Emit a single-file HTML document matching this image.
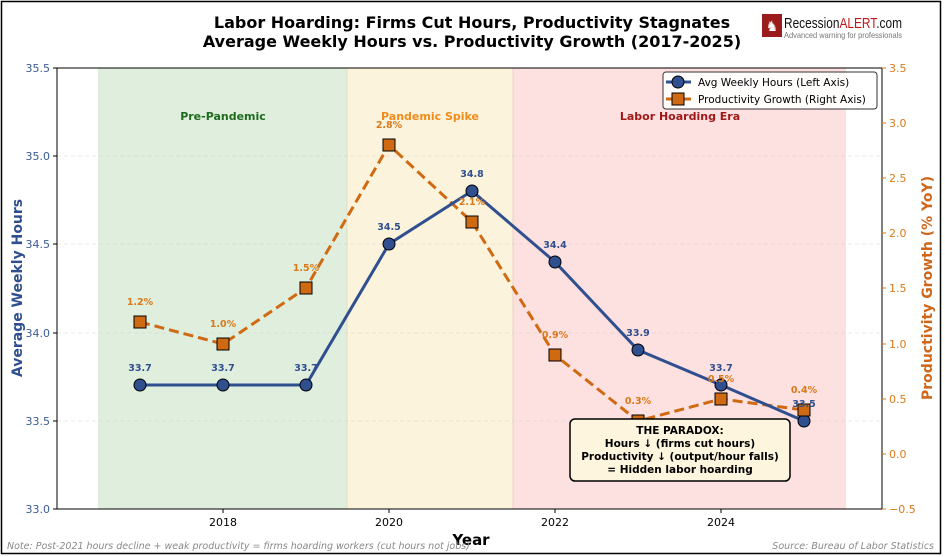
<!DOCTYPE html>
<html><head><meta charset="utf-8"><style>html,body{margin:0;padding:0;background:#fff}svg{display:block}</style></head>
<body>
<svg width="945" height="557" viewBox="0 0 945 557" xmlns="http://www.w3.org/2000/svg" font-family="DejaVu Sans, Liberation Sans, sans-serif">
<rect x="0" y="0" width="945" height="557" fill="#fff"/>
<rect x="1.5" y="1.5" width="939" height="552" fill="none" stroke="#000" stroke-width="1.5"/>
<rect x="98" y="68" width="249" height="441" fill="#dfeedd"/>
<rect x="347" y="68" width="166" height="441" fill="#fbf3dc"/>
<rect x="513" y="68" width="333" height="441" fill="#fde0e0"/>
<line x1="347" y1="68" x2="347" y2="509" stroke="#e6dfc0" stroke-width="1"/>
<line x1="513" y1="68" x2="513" y2="509" stroke="#ecd0c8" stroke-width="1"/>
<g stroke="#ccc" stroke-dasharray="4,3" stroke-width="0.6" opacity="0.8">
<line x1="57" y1="156" x2="882" y2="156"/><line x1="57" y1="244" x2="882" y2="244"/>
<line x1="57" y1="333" x2="882" y2="333"/><line x1="57" y1="421" x2="882" y2="421"/>
</g>
<rect x="57" y="68" width="825" height="441" fill="none" stroke="#000" stroke-width="1"/>
<g stroke="#000" stroke-width="1">
<line x1="53" y1="68" x2="57" y2="68"/><line x1="53" y1="156" x2="57" y2="156"/><line x1="53" y1="244" x2="57" y2="244"/><line x1="53" y1="333" x2="57" y2="333"/><line x1="53" y1="421" x2="57" y2="421"/><line x1="53" y1="509" x2="57" y2="509"/>
<line x1="223" y1="509" x2="223" y2="513"/><line x1="389" y1="509" x2="389" y2="513"/><line x1="555" y1="509" x2="555" y2="513"/><line x1="721" y1="509" x2="721" y2="513"/>
</g>
<g stroke="#d97a1a" stroke-width="1">
<line x1="882" y1="68" x2="886" y2="68"/><line x1="882" y1="123" x2="886" y2="123"/><line x1="882" y1="178" x2="886" y2="178"/><line x1="882" y1="233" x2="886" y2="233"/><line x1="882" y1="288" x2="886" y2="288"/><line x1="882" y1="344" x2="886" y2="344"/><line x1="882" y1="399" x2="886" y2="399"/><line x1="882" y1="454" x2="886" y2="454"/><line x1="882" y1="509" x2="886" y2="509"/>
</g>
<g font-size="11" fill="#3a5a9a" text-anchor="end">
<text x="50" y="72">35.5</text><text x="50" y="160">35.0</text><text x="50" y="248">34.5</text><text x="50" y="337">34.0</text><text x="50" y="425">33.5</text><text x="50" y="513">33.0</text>
</g>
<g font-size="11" fill="#d97a1a">
<text x="889" y="72">3.5</text><text x="889" y="127">3.0</text><text x="889" y="182">2.5</text><text x="889" y="237">2.0</text><text x="889" y="292">1.5</text><text x="889" y="348">1.0</text><text x="889" y="403">0.5</text><text x="889" y="458">0.0</text><text x="889" y="513">−0.5</text>
</g>
<g font-size="11" fill="#000" text-anchor="middle">
<text x="223" y="526">2018</text><text x="389" y="526">2020</text><text x="555" y="526">2022</text><text x="721" y="526">2024</text>
</g>
<text x="471" y="545" font-size="15" font-weight="bold" text-anchor="middle">Year</text>
<text transform="translate(22,288) rotate(-90)" font-size="14" font-weight="bold" fill="#2f4f8f" text-anchor="middle">Average Weekly Hours</text>
<text transform="translate(932,288) rotate(-90)" font-size="14" font-weight="bold" fill="#d0661a" text-anchor="middle">Productivity Growth (% YoY)</text>
<text x="472" y="28" font-size="16" font-weight="bold" text-anchor="middle">Labor Hoarding: Firms Cut Hours, Productivity Stagnates</text>
<text x="472" y="47" font-size="16" font-weight="bold" text-anchor="middle">Average Weekly Hours vs. Productivity Growth (2017-2025)</text>
<rect x="762" y="14" width="20" height="23" fill="#9b1c1c"/>
<text x="772" y="31" font-size="14" fill="#fff" text-anchor="middle">♞</text>
<text x="784" y="28" font-size="15" font-family="Liberation Sans Narrow, Liberation Sans, sans-serif" fill="#111" textLength="118" lengthAdjust="spacingAndGlyphs">Recession<tspan fill="#c01818">ALERT</tspan>.com</text>
<text x="784" y="38" font-size="8.5" font-family="Liberation Sans Narrow, Liberation Sans, sans-serif" fill="#777" textLength="118" lengthAdjust="spacingAndGlyphs">Advanced warning for professionals</text>
<text x="223" y="120" font-size="11" font-weight="bold" fill="#1e6b1e" text-anchor="middle">Pre-Pandemic</text>
<text x="430" y="120" font-size="11" font-weight="bold" fill="#f08c1c" text-anchor="middle">Pandemic Spike</text>
<text x="680" y="120" font-size="11" font-weight="bold" fill="#a01818" text-anchor="middle">Labor Hoarding Era</text>
<polyline points="140,322 223,344 306,288 389,145 472,222 555,355 638,421 721,399 804,410" fill="none" stroke="#d06a12" stroke-width="3" stroke-dasharray="10,5"/>
<polyline points="140,385 223,385 306,385 389,244 472,191 555,262 638,350 721,385 804,421" fill="none" stroke="#2f4f8f" stroke-width="3"/>
<g fill="#2f4f8f" stroke="#000" stroke-width="1">
<circle cx="140" cy="385" r="6"/><circle cx="223" cy="385" r="6"/><circle cx="306" cy="385" r="6"/><circle cx="389" cy="244" r="6"/><circle cx="472" cy="191" r="6"/><circle cx="555" cy="262" r="6"/><circle cx="638" cy="350" r="6"/><circle cx="721" cy="385" r="6"/><circle cx="804" cy="421" r="6"/>
</g>
<g fill="#d06a12" stroke="#000" stroke-width="1">
<rect x="134" y="316" width="12" height="12"/><rect x="217" y="338" width="12" height="12"/><rect x="300" y="282" width="12" height="12"/><rect x="383" y="139" width="12" height="12"/><rect x="466" y="216" width="12" height="12"/><rect x="549" y="349" width="12" height="12"/><rect x="632" y="415" width="12" height="12"/><rect x="715" y="393" width="12" height="12"/><rect x="798" y="404" width="12" height="12"/>
</g>
<g font-size="9.5" font-weight="bold" fill="#2f4f8f" text-anchor="middle">
<text x="140" y="371">33.7</text><text x="223" y="371">33.7</text><text x="306" y="371">33.7</text><text x="389" y="230">34.5</text><text x="472" y="177">34.8</text><text x="555" y="248">34.4</text><text x="638" y="336">33.9</text><text x="721" y="371">33.7</text><text x="804" y="407">33.5</text>
</g>
<g font-size="9.5" font-weight="bold" fill="#d97a1a" text-anchor="middle">
<text x="140" y="305">1.2%</text><text x="223" y="327">1.0%</text><text x="306" y="271">1.5%</text><text x="389" y="128">2.8%</text><text x="472" y="205">2.1%</text><text x="555" y="338">0.9%</text><text x="638" y="404">0.3%</text><text x="721" y="382">0.5%</text><text x="804" y="393">0.4%</text>
</g>
<rect x="663" y="72" width="214" height="37" rx="3" fill="#fff" fill-opacity="0.9" stroke="#333" stroke-width="1"/>
<line x1="666" y1="82" x2="691" y2="82" stroke="#2f4f8f" stroke-width="3"/><circle cx="678" cy="82" r="6" fill="#2f4f8f" stroke="#000"/>
<line x1="666" y1="99" x2="691" y2="99" stroke="#d06a12" stroke-width="3"/><rect x="672" y="93" width="12" height="12" fill="#d06a12" stroke="#000"/>
<text x="698" y="86" font-size="10.5">Avg Weekly Hours (Left Axis)</text>
<text x="698" y="103" font-size="10.5">Productivity Growth (Right Axis)</text>
<rect x="570" y="419" width="220" height="62" rx="5" fill="#fdf5dd" stroke="#000" stroke-width="1.5"/>
<g font-size="10.5" font-weight="bold" text-anchor="middle">
<text x="680" y="434">THE PARADOX:</text><text x="680" y="447">Hours ↓ (firms cut hours)</text><text x="680" y="460">Productivity ↓ (output/hour falls)</text><text x="680" y="473">= Hidden labor hoarding</text>
</g>
<text x="7" y="549" font-size="9.5" font-style="italic" fill="#888">Note: Post-2021 hours decline + weak productivity = firms hoarding workers (cut hours not jobs)</text>
<text x="934" y="549" font-size="9.5" font-style="italic" fill="#888" text-anchor="end">Source: Bureau of Labor Statistics</text>
</svg>
</body></html>
